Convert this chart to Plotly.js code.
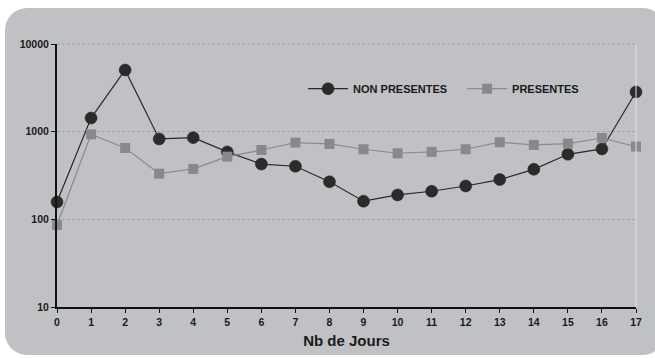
<!DOCTYPE html>
<html><head><meta charset="utf-8">
<script src="https://cdn.plot.ly/plotly-3.0.1.min.js"></script>
<style>
html,body{margin:0;padding:0;background:#fff;}
#panel{position:absolute;left:5px;top:8px;width:660px;height:347px;background:#c0c1c5;border-radius:22px;}
#chart{position:absolute;left:0;top:0;width:655px;height:358px;}
</style></head>
<body>
<div id="panel"></div>
<div id="chart"></div>
<script>
const days = [0,1,2,3,4,5,6,7,8,9,10,11,12,13,14,15,16,17];
const nonPresentes = [158,1430,5050,826,855,588,427,403,268,161,190,209,240,284,372,552,635,2840];
const presentes = [86,933,652,332,376,519,618,750,724,630,567,588,630,758,706,730,847,675];
const yTicks = [10,100,1000,10000];
const yTickText = ['10','100','1000','10000'];
const font = {family:'Liberation Sans, Arial, sans-serif', color:'#1a1a1a'};
const gridLine = {color:'#a3a4a8', width:1, dash:'3px,2px'};

const traces = [
 {x:days, y:nonPresentes, name:'NON PRESENTES', mode:'lines+markers', cliponaxis:false,
  line:{color:'#2a2a2a', width:1.2}, marker:{symbol:'circle', size:12, color:'#2b2b2b', line:{color:'#1e1e1e', width:0.5}}},
 {x:days, y:presentes, name:'PRESENTES', mode:'lines+markers', cliponaxis:false,
  line:{color:'#8a8b8e', width:1.2}, marker:{symbol:'square', size:10, color:'#88898c', line:{width:0}}}
];
const layout = {
 width:655, height:358,
 margin:{l:57, r:19, t:44, b:51},
 paper_bgcolor:'rgba(0,0,0,0)', plot_bgcolor:'rgba(0,0,0,0)',
 showlegend:true,
 legend:{orientation:'h', x:0.425, y:0.83, xanchor:'left', yanchor:'middle', bgcolor:'rgba(0,0,0,0)',
   font:Object.assign({}, font, {size:11, weight:'bold'}), itemwidth:40, entrywidth:104, tracegroupgap:0},
 xaxis:{range:[0,17], tickvals:days, ticks:'outside', ticklen:4, tickcolor:'#111', showline:true, linecolor:'#111', linewidth:2,
   showgrid:false, zeroline:false, tickfont:Object.assign({}, font, {size:10.5, weight:'bold'}),
   title:{text:'Nb de Jours', font:Object.assign({}, font, {size:15, weight:'bold'}), standoff:9}},
 yaxis:{type:'log', range:[1,4], tickvals:yTicks, ticktext:yTickText, ticks:'outside', ticklen:4, tickcolor:'#111',
   showline:true, linecolor:'#111', linewidth:2, showgrid:true, gridcolor:gridLine.color, griddash:gridLine.dash, gridwidth:1,
   zeroline:false, tickfont:Object.assign({}, font, {size:10.5, weight:'bold'})},
 shapes:[
  {type:'line', xref:'paper', yref:'paper', x0:1, x1:1, y0:0, y1:1, line:{color:'#e2e3e5', width:1}},
  {type:'line', xref:'paper', yref:'paper', x0:0, x1:1, y0:1, y1:1, line:gridLine}
 ]
};
Plotly.newPlot('chart', traces, layout, {displayModeBar:false, staticPlot:true});
</script>
</body></html>
